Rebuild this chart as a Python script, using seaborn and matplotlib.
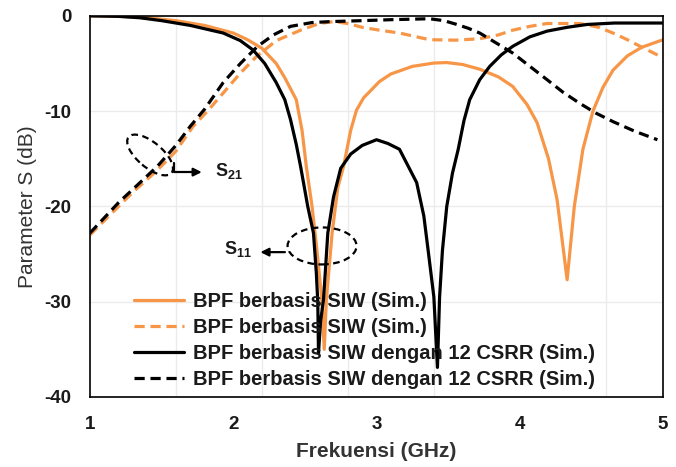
import numpy as np
import pandas as pd
import matplotlib
matplotlib.use('Agg')
import matplotlib.pyplot as plt
import matplotlib.transforms as mtransforms
from matplotlib.patches import Ellipse
import seaborn as sns

# S11 of the plain SIW BPF (orange solid)
f_siw_s11 = [1.0, 1.2, 1.4, 1.6, 1.8, 2.0, 2.1, 2.2, 2.3, 2.36, 2.44, 2.48, 2.51, 2.55, 2.58,
             2.62, 2.635, 2.65, 2.69, 2.73, 2.77, 2.82, 2.86, 2.91, 3.02, 3.1, 3.25, 3.4, 3.49,
             3.6, 3.72, 3.85, 3.95, 4.05, 4.12, 4.2, 4.26, 4.33, 4.38, 4.44, 4.51, 4.58, 4.65,
             4.75, 4.85, 5.0]
s_siw_s11 = [0.0, -0.05, -0.2, -0.5, -1.0, -1.8, -2.5, -3.4, -5.0, -6.5, -8.8, -12.0, -15.8, -20.0,
             -24.0, -30.0, -35.0, -29.8, -22.8, -18.0, -15.8, -12.0, -9.9, -8.6, -6.9, -6.1, -5.3,
             -4.95, -4.9, -5.1, -5.6, -6.4, -7.4, -9.3, -11.2, -15.0, -19.3, -27.7, -20.0, -14.0,
             -10.0, -7.5, -5.7, -4.2, -3.3, -2.5]

# S21 of the plain SIW BPF (orange dashed)
f_siw_s21 = [1.0, 1.1, 1.2, 1.3, 1.47, 1.6, 1.72, 1.82, 1.93, 2.05, 2.16, 2.3, 2.47, 2.6, 2.7, 2.8,
             2.9, 3.02, 3.16, 3.37, 3.55, 3.72, 3.85, 3.95, 4.07, 4.19, 4.42, 4.55, 4.65, 4.75,
             4.84, 5.0]
s_siw_s21 = [-23.0, -21.5, -20.0, -18.5, -16.2, -14.2, -11.6, -10.0, -8.1, -6.0, -4.3, -2.6, -1.5,
             -0.8, -0.6, -0.8, -1.2, -1.5, -1.8, -2.5, -2.55, -2.4, -2.0, -1.5, -1.1, -0.8, -0.8,
             -1.2, -1.8, -2.5, -3.2, -4.4]

# S11 of the SIW BPF with 12 CSRR (black solid)
f_csrr_s11 = [1.0, 1.2, 1.35, 1.5, 1.7, 1.93, 2.05, 2.14, 2.22, 2.3, 2.36, 2.4, 2.44, 2.47, 2.52,
              2.56, 2.58, 2.59, 2.595, 2.61, 2.63, 2.66, 2.7, 2.75, 2.82, 2.9, 3.0, 3.08, 3.16,
              3.28, 3.33, 3.36, 3.4, 3.425, 3.44, 3.46, 3.49, 3.53, 3.57, 3.61, 3.65, 3.72, 3.79,
              3.87, 3.95, 4.07, 4.19, 4.33, 4.47, 4.66, 5.0]
s_csrr_s11 = [0.0, -0.05, -0.2, -0.5, -1.0, -1.8, -2.6, -3.6, -5.0, -7.0, -8.8, -10.9, -13.5, -15.8,
              -20.0, -22.8, -27.0, -30.0, -35.4, -32.0, -29.8, -22.8, -19.0, -16.0, -14.5, -13.6,
              -13.0, -13.4, -14.0, -17.5, -21.0, -24.6, -29.5, -36.9, -29.5, -24.6, -20.0, -16.5,
              -14.0, -11.0, -8.8, -6.7, -5.3, -4.1, -3.2, -2.2, -1.6, -1.2, -0.9, -0.75, -0.75]

# S21 of the SIW BPF with 12 CSRR (black dashed)
f_csrr_s21 = [1.0, 1.1, 1.2, 1.3, 1.47, 1.6, 1.7, 1.8, 1.93, 2.05, 2.17, 2.28, 2.4, 2.55, 2.68,
              2.9, 3.1, 3.37, 3.47, 3.56, 3.64, 3.72, 3.83, 3.95, 4.07, 4.19, 4.3, 4.42, 4.53,
              4.65, 4.8, 4.96]
s_csrr_s21 = [-22.8, -21.2, -19.6, -18.2, -15.8, -13.6, -11.6, -9.8, -7.0, -5.0, -3.2, -2.0, -1.1,
              -0.7, -0.6, -0.5, -0.4, -0.3, -0.5, -0.9, -1.3, -1.8, -2.8, -3.9, -5.3, -6.7, -8.0,
              -9.2, -10.2, -11.1, -12.1, -13.0]

label_siw = 'BPF berbasis SIW (Sim.)'
label_csrr = 'BPF berbasis SIW dengan 12 CSRR (Sim.)'

orange = '#F79646'

sns.set_style('white')
plt.rcParams['font.family'] = ['Liberation Sans', 'DejaVu Sans']
plt.rcParams['axes.unicode_minus'] = False

fig = plt.figure(figsize=(6.76, 4.67), dpi=100)
ax = fig.add_axes([0.133, 0.150, 0.848, 0.816])

lw = 2.3
sns.lineplot(x=f_siw_s11, y=s_siw_s11, ax=ax, color=orange, lw=lw, label=label_siw, sort=False)
sns.lineplot(x=f_siw_s21, y=s_siw_s21, ax=ax, color=orange, lw=lw, label=label_siw, sort=False,
             dashes=False, linestyle=(0, (3.2, 1.8)))
sns.lineplot(x=f_csrr_s11, y=s_csrr_s11, ax=ax, color='black', lw=lw, label=label_csrr, sort=False)
sns.lineplot(x=f_csrr_s21, y=s_csrr_s21, ax=ax, color='black', lw=lw, label=label_csrr, sort=False,
             dashes=False, linestyle=(0, (3.2, 1.8)))

ax.set_xlim(1, 5)
ax.set_ylim(-40, 0)
ax.set_xticks([1, 2, 3, 4, 5])
ax.set_yticks([0, -10, -20, -30, -40])
ax.set_xticks(np.arange(1.6, 5.0, 0.6), minor=True)
ax.grid(False)
ax.grid(True, which='minor', axis='x', color='#ebebeb', lw=1)
ax.grid(True, which='major', axis='y', color='#ebebeb', lw=1)
ax.tick_params(which='both', length=0, labelsize=13.5, pad=13.5, labelcolor='#1a1a1a')
for t in ax.get_xticklabels() + ax.get_yticklabels():
    t.set_fontweight('bold')
for spine in ax.spines.values():
    spine.set_color('black')
    spine.set_linewidth(1.2)

ax.set_xlabel('Frekuensi (GHz)', fontsize=15, fontweight='bold', labelpad=7, color='#333333')
ax.set_ylabel('Parameter S (dB)', fontsize=15, labelpad=5, color='#333333')

leg = ax.legend(loc='lower left', bbox_to_anchor=(0.055, -0.012), frameon=False,
                fontsize=14.5, handlelength=2.5, handletextpad=0.45, labelspacing=0.36,
                borderaxespad=0.2)
for t in leg.get_texts():
    t.set_fontweight('bold')
    t.set_color('#1a1a1a')

# dashed ellipses marking S21 and S11 groups
def mark(xd, yd, w, h, angle):
    tr = fig.dpi_scale_trans + mtransforms.ScaledTranslation(xd, yd, ax.transData)
    ax.add_patch(Ellipse((0, 0), w, h, angle=angle, transform=tr, fill=False,
                         ls=(0, (3, 2)), lw=1.6, color='black', zorder=6, clip_on=False))

mark(1.42, -14.6, 0.56, 0.25, -40)
mark(2.62, -24.15, 0.69, 0.37, 0)

ax.plot([1.586, 1.586, 1.72], [-15.4, -16.4, -16.4], color='black', lw=1.6, zorder=6)
ax.annotate('', xy=(1.80, -16.4), xytext=(1.70, -16.4),
            arrowprops=dict(arrowstyle='-|>', color='black', lw=1.6, mutation_scale=12))
ax.text(1.97, -16.3, r'$\mathregular{S_{21}}$', fontsize=13, fontweight='bold',
        ha='center', va='center', color='#1a1a1a')

ax.annotate('', xy=(2.17, -24.8), xytext=(2.38, -24.8),
            arrowprops=dict(arrowstyle='-|>', color='black', lw=1.6, mutation_scale=12))
ax.text(2.03, -24.5, r'$\mathregular{S_{11}}$', fontsize=13, fontweight='bold',
        ha='center', va='center', color='#1a1a1a')

fig.savefig('out.png', dpi=100)
